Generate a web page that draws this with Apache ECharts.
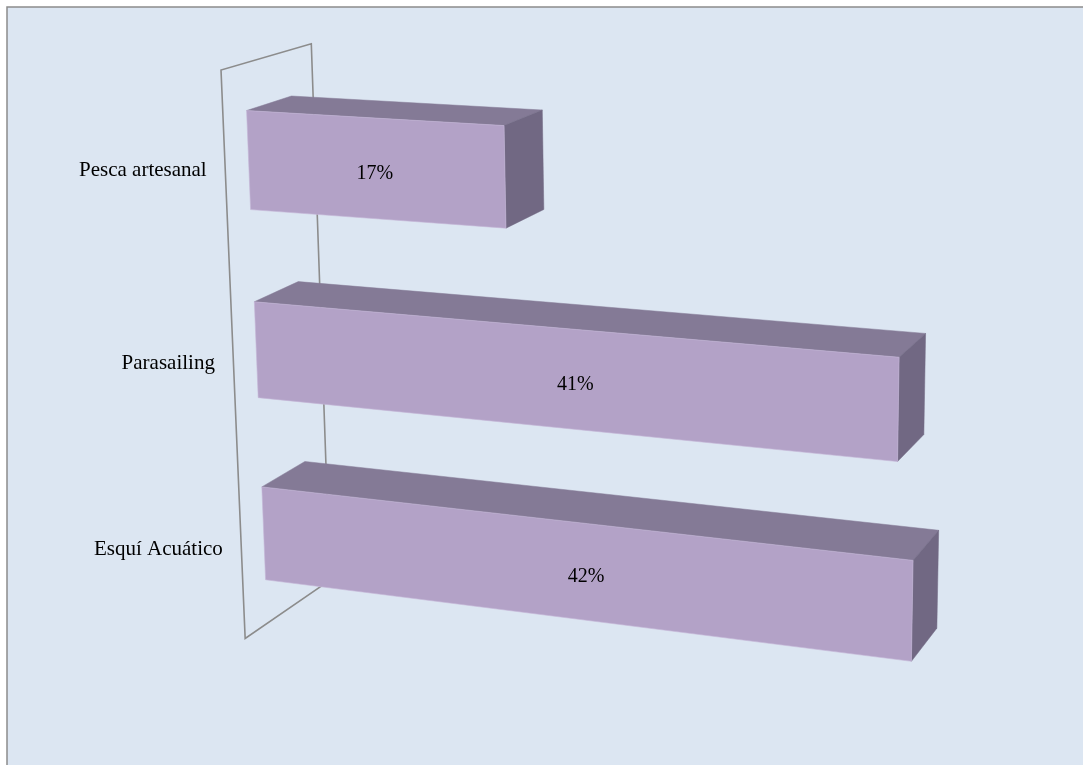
<!DOCTYPE html>
<html><head><meta charset="utf-8">
<script src="https://cdn.jsdelivr.net/npm/echarts@6/dist/echarts.min.js"></script>
<style>html,body{margin:0;padding:0;background:#fff}#c{width:1083px;height:765px}</style>
</head><body><div id="c"></div>
<script>
// ---- data ----
const categories = ['Pesca artesanal', 'Parasailing', 'Esquí Acuático'];
const values = [17, 41, 42];
const valueLabels = ['17%', '41%', '42%'];

// ---- 3D camera (perspective view of the flat grid) ----
const CAM = { alpha: 21.0, beta: 13.06, gamma: -0.47, f: 2712, px: 631, py: 279, ox: -401.8, oy: -204.8, oz: 2657.8 };
const rad = Math.PI / 180;
function basis() {
  const a = CAM.alpha * rad, b = CAM.beta * rad, g = CAM.gamma * rad;
  function rot(v) {
    let x = v[0], y = v[1] * Math.cos(b) - v[2] * Math.sin(b), z = v[1] * Math.sin(b) + v[2] * Math.cos(b);
    return [x * Math.cos(g) - y * Math.sin(g), x * Math.sin(g) + y * Math.cos(g), z];
  }
  return {
    ex: rot([Math.cos(a), 0, -Math.sin(a)]),
    ed: rot([0, 1, 0]),
    ez: rot([Math.sin(a), 0, Math.cos(a)])
  };
}
const B = basis();
function proj(X, Y, Z) {
  const cx = CAM.ox + X * B.ex[0] + Y * B.ed[0] + Z * B.ez[0];
  const cy = CAM.oy + X * B.ex[1] + Y * B.ed[1] + Z * B.ez[1];
  const cz = CAM.oz + X * B.ex[2] + Y * B.ed[2] + Z * B.ez[2];
  return [CAM.px + CAM.f * cx / cz, CAM.py + CAM.f * cy / cz];
}

const BAR_RATIO = 0.514;   // bar thickness / category band
const DEPTH_RATIO = 0.97;  // wall depth / category band
const COL_FRONT = '#b3a2c7', COL_TOP = '#847a96', COL_SIDE = '#716883';
const FONT = '21px "Liberation Serif", "Times New Roman", serif';

const chart = echarts.init(document.getElementById('c'), null, { renderer: 'canvas' });

function renderWall(params, api) {
  const cs = params.coordSys;
  const band = api.size([0, 1])[1];
  const H = cs.height, Dw = band * DEPTH_RATIO;
  const pts = [proj(0, 0, 0), proj(0, H, 0), proj(0, H, Dw), proj(0, 0, Dw)];
  return {
    type: 'polygon',
    shape: { points: pts },
    style: { fill: null, stroke: '#8c8c8c', lineWidth: 1.6 }
  };
}

function renderBar(params, api) {
  const cs = params.coordSys;
  const idx = api.value(1);
  const p = api.coord([api.value(0), idx]);
  const band = api.size([0, 1])[1];
  const X1 = p[0] - cs.x;
  const Yc = p[1] - cs.y;
  const bh = band * BAR_RATIO;
  const y0 = Yc - bh / 2, y1 = Yc + bh / 2;
  const Dw = band * DEPTH_RATIO;
  const z0 = Dw * 0.25, z1 = Dw * 0.75;
  const top = [proj(0, y0, z0), proj(X1, y0, z0), proj(X1, y0, z1), proj(0, y0, z1)];
  const side = [proj(X1, y0, z0), proj(X1, y1, z0), proj(X1, y1, z1), proj(X1, y0, z1)];
  const front = [proj(0, y0, z0), proj(X1, y0, z0), proj(X1, y1, z0), proj(0, y1, z0)];
  const lc = [0, 1].map(k => front.reduce((s, q) => s + q[k], 0) / 4);
  const cl = proj(0, Yc, 0);
  return {
    type: 'group',
    children: [
      { type: 'polygon', shape: { points: top }, style: { fill: COL_TOP, stroke: COL_TOP, lineWidth: 0.5 } },
      { type: 'polygon', shape: { points: side }, style: { fill: COL_SIDE, stroke: COL_SIDE, lineWidth: 0.5 } },
      { type: 'polygon', shape: { points: front }, style: { fill: COL_FRONT, stroke: '#c4b6d6', lineWidth: 0.6 } },
      { type: 'text', style: { text: valueLabels[idx], x: lc[0] - 2, y: lc[1] + 5, align: 'center', verticalAlign: 'middle', font: '20px "Liberation Serif", "Times New Roman", serif', fill: '#000' } },
      { type: 'text', style: { text: categories[idx], x: cl[0] - 18.5, y: cl[1] + 2, align: 'right', verticalAlign: 'middle', font: FONT, fill: '#000' } }
    ]
  };
}

chart.setOption({
  backgroundColor: '#ffffff',
  animation: false,
  graphic: [{
    type: 'rect', z: -10, silent: true,
    shape: { x: 7, y: 7, width: 1200, height: 900 },
    style: { fill: '#dce6f2', stroke: '#8c8c8c', lineWidth: 1.5 }
  }],
  grid: { left: 100, top: 60, width: 825, height: 590 },
  xAxis: { type: 'value', min: 0, max: 50, show: false },
  yAxis: { type: 'category', data: categories, inverse: true, show: false },
  series: [
    { type: 'custom', z: 1, clip: false, renderItem: renderWall, data: [[0, 0]] },
    { type: 'custom', z: 2, clip: false, renderItem: renderBar, encode: { x: 0, y: 1 },
      data: values.map((v, i) => [v, i]) }
  ]
});
</script></body></html>
